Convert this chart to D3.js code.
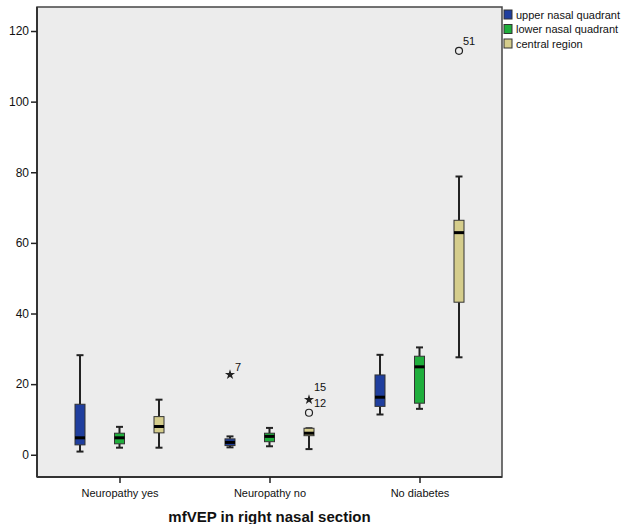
<!DOCTYPE html>
<html>
<head>
<meta charset="utf-8">
<script src="https://cdn.jsdelivr.net/npm/d3@7"></script>
<style>
  body { margin: 0; background: #fff; }
  svg { display: block; font-family: "Liberation Sans", Arial, sans-serif; }
</style>
</head>
<body>
<svg id="chart" width="629" height="524"></svg>
<script>
//Data
const categories = ["Neuropathy yes", "Neuropathy no", "No diabetes"];
const seriesNames = ["upper nasal quadrant", "lower nasal quadrant", "central region"];
const yTicks = [0, 20, 40, 60, 80, 100, 120];

//[whisker low, Q1, median, Q3, whisker high] per category
const upperNasal = [[0.9, 2.8, 4.8, 14.3, 28.2], [2.1, 2.6, 3.5, 4.5, 5.2], [11.4, 13.7, 16.3, 22.6, 28.3]];
const lowerNasal = [[2.0, 3.1, 4.8, 6.1, 7.9], [2.4, 3.7, 5.2, 6.1, 7.6], [13.0, 14.6, 24.9, 27.9, 30.4]];
const centralRegion = [[2.0, 6.2, 8.0, 10.8, 15.6], [1.6, 5.4, 6.1, 7.5, 7.5], [27.6, 43.2, 62.9, 66.4, 78.8]];

//Outliers: [category index, series index, value, case label, kind]
const outliers = [
  [1, 0, 22.7, "7", "star"],
  [1, 2, 15.6, "15", "star"],
  [1, 2, 11.9, "12", "circle"],
  [2, 2, 114.4, "51", "circle"]
];

const seriesData = [upperNasal, lowerNasal, centralRegion];
const colors = ["#1f3e9e", "#1fae3c", "#d5cd8c"];
//label shifts (px) so labels do not collide, same order as outliers
const labelShift = [[5, -4], [5, -9], [5, -6], [4, -6]];

//Measuring (px)
const plot = { left: 37, top: 7, right: 502, bottom: 477 };
const boxWidth = 10;
const svg = d3.select("#chart");

const xScale = d3.scalePoint()
  .domain(categories)
  .range([plot.left, plot.right])
  .padding(0.55);

const offset = d3.scalePoint()
  .domain(seriesNames)
  .range([-39.5, 39.5]);

const yScale = d3.scaleLinear()
  .domain([-6.3, 126.8])
  .range([plot.bottom, plot.top]);

//Plot background
svg.append("rect")
  .attr("x", plot.left).attr("y", plot.top)
  .attr("width", plot.right - plot.left).attr("height", plot.bottom - plot.top)
  .attr("fill", "#ececec")
  .attr("stroke", "#444").attr("stroke-width", 1.5);

//Y axis
const yAxis = svg.append("g")
  .attr("transform", `translate(${plot.left},0)`)
  .call(d3.axisLeft(yScale).tickValues(yTicks).tickSize(6).tickPadding(2));
yAxis.select(".domain").attr("stroke", "#333").attr("stroke-width", 2)
  .attr("d", `M0,${plot.top}V${plot.bottom}`);
yAxis.selectAll(".tick line").attr("stroke", "#222").attr("stroke-width", 1.5);
yAxis.selectAll(".tick text").attr("font-size", 12).attr("fill", "#111");

//X axis
const xAxis = svg.append("g")
  .attr("transform", `translate(0,${plot.bottom})`)
  .call(d3.axisBottom(xScale).tickSize(6).tickPadding(6));
xAxis.select(".domain").attr("stroke", "#333").attr("stroke-width", 2)
  .attr("d", `M${plot.left},0H${plot.right}`);
xAxis.selectAll(".tick line").attr("stroke", "#222").attr("stroke-width", 1.5);
xAxis.selectAll(".tick text").attr("font-size", 11).attr("fill", "#111");

//Boxes
seriesData.forEach((series, s) => {
  const g = svg.append("g").attr("class", "series");
  series.forEach((d, c) => {
    const cx = xScale(categories[c]) + offset(seriesNames[s]);
    const [lo, q1, med, q3, hi] = d;
    //whiskers
    g.append("line").attr("x1", cx).attr("x2", cx)
      .attr("y1", yScale(hi)).attr("y2", yScale(q3))
      .attr("stroke", "#222").attr("stroke-width", 2);
    g.append("line").attr("x1", cx).attr("x2", cx)
      .attr("y1", yScale(q1)).attr("y2", yScale(lo))
      .attr("stroke", "#222").attr("stroke-width", 2);
    [lo, hi].forEach(v => {
      g.append("line").attr("x1", cx - 3.5).attr("x2", cx + 3.5)
        .attr("y1", yScale(v)).attr("y2", yScale(v))
        .attr("stroke", "#222").attr("stroke-width", 2);
    });
    //box
    g.append("rect")
      .attr("x", cx - boxWidth / 2).attr("y", yScale(q3))
      .attr("width", boxWidth).attr("height", yScale(q1) - yScale(q3))
      .attr("fill", colors[s]).attr("stroke", "#333").attr("stroke-width", 1);
    //median
    g.append("line").attr("x1", cx - boxWidth / 2).attr("x2", cx + boxWidth / 2)
      .attr("y1", yScale(med)).attr("y2", yScale(med))
      .attr("stroke", "#000").attr("stroke-width", 3);
  });
});

//Outliers
outliers.forEach(([c, s, v, label, kind], i) => {
  const cx = xScale(categories[c]) + offset(seriesNames[s]);
  const cy = yScale(v);
  if (kind === "circle") {
    svg.append("circle").attr("cx", cx).attr("cy", cy).attr("r", 3.5)
      .attr("fill", "none").attr("stroke", "#222").attr("stroke-width", 1.2);
  } else {
    svg.append("path")
      .attr("transform", `translate(${cx},${cy})`)
      .attr("d", d3.symbol(d3.symbolStar, 32)())
      .attr("fill", "#222");
  }
  svg.append("text")
    .attr("x", cx + labelShift[i][0]).attr("y", cy + labelShift[i][1])
    .attr("font-size", 11).attr("fill", "#111")
    .text(label);
});

//Legend
const legend = svg.append("g").attr("transform", "translate(504,10)");
seriesNames.forEach((name, i) => {
  const row = legend.append("g").attr("transform", `translate(0,${i * 14.5})`);
  row.append("rect").attr("width", 8).attr("height", 9)
    .attr("fill", colors[i]).attr("stroke", "#333").attr("stroke-width", 1);
  row.append("text").attr("x", 12).attr("y", 8.5)
    .attr("font-size", 11).attr("fill", "#111").text(name);
});

//Axis title
svg.append("text")
  .attr("x", (plot.left + plot.right) / 2).attr("y", 522)
  .attr("text-anchor", "middle")
  .attr("font-size", 15).attr("font-weight", "bold").attr("fill", "#111")
  .text("mfVEP in right nasal section");
</script>
</body>
</html>
